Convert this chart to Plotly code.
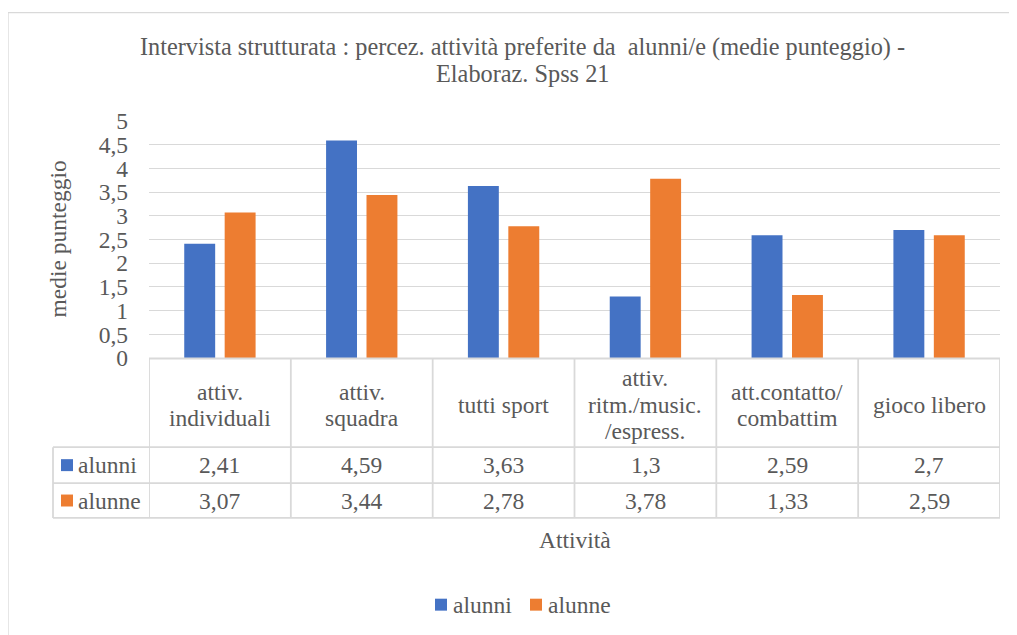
import plotly.graph_objects as go

# data
categories = ["attiv.<br>individuali", "attiv.<br>squadra", "tutti sport",
              "attiv.<br>ritm./music.<br>/espress.", "att.contatto/<br>combattim", "gioco libero"]
series_names = ["alunni", "alunne"]
alunni = [2.41, 4.59, 3.63, 1.3, 2.59, 2.7]
alunne = [3.07, 3.44, 2.78, 3.78, 1.33, 2.59]
y_tickvals = [0, 0.5, 1, 1.5, 2, 2.5, 3, 3.5, 4, 4.5, 5]
y_ticktext = ["0", "0,5", "1", "1,5", "2", "2,5", "3", "3,5", "4", "4,5", "5"]
title_lines = ["Intervista strutturata : percez. attività preferite da  alunni/e (medie punteggio) -",
               "Elaboraz. Spss 21"]

colors = ["#4472C4", "#ED7D31"]
text_color = "#595959"
grid_color = "#D9D9D9"
font_family = "Liberation Serif"
fsize = 23.5
title_size = 24.3
line_gap = 26.7  # Excel packs lines tighter than plotly's 1.3em

# the page adds an 8px body margin, so the figure is drawn 8px smaller and shifted
OFF = 8
W, H = 1017 - OFF, 635 - OFF
PL, PR, PT, PB = 149 - OFF, 1000 - OFF, 120.7 - OFF, 358.5 - OFF


def px_x(x):
    # x given in reference page pixels
    return (x - OFF - PL) / (PR - PL)


def px_y(y):
    return (PB - (y - OFF)) / (PB - PT)


def stacked(lines, yc):
    # centre y of every line of a text block centred on yc
    k = len(lines)
    return [yc + (j - (k - 1) / 2) * line_gap for j in range(k)]


fig = go.Figure()
for name, vals, col in zip(series_names, [alunni, alunne], colors):
    fig.add_trace(go.Bar(x=list(range(len(categories))), y=vals, name=name,
                         marker=dict(color=col, line=dict(width=0)), showlegend=False))

shapes = []
annotations = []

# outer chart border (left and top)
shapes.append(dict(type="rect", xref="paper", yref="paper", x0=px_x(8), x1=px_x(1100),
                   y0=px_y(12), y1=px_y(700), line=dict(color=grid_color, width=1.3),
                   fillcolor="rgba(0,0,0,0)", layer="below"))

# data table grid
n = len(categories)
row_top, row_head, row_a, row_b = 359, 448, 484, 519
line_style = dict(color=grid_color, width=1.8)
shapes.append(dict(type="line", xref="paper", yref="paper", x0=px_x(149), x1=px_x(1000),
                   y0=px_y(row_top), y1=px_y(row_top), line=line_style))
for yy in [row_head, row_a, row_b]:
    shapes.append(dict(type="line", xref="paper", yref="paper", x0=px_x(53), x1=px_x(1000),
                       y0=px_y(yy), y1=px_y(yy), line=line_style))
shapes.append(dict(type="line", xref="paper", yref="paper", x0=px_x(53), x1=px_x(53),
                   y0=px_y(row_head), y1=px_y(row_b), line=line_style))
for i in range(n + 1):
    shapes.append(dict(type="line", xref="x", yref="paper", x0=i - 0.5, x1=i - 0.5,
                       y0=px_y(row_top), y1=px_y(row_b), line=line_style))

# table header and values
for i, cat in enumerate(categories):
    parts = cat.split("<br>")
    for part, yy in zip(parts, stacked(parts, 405.5)):
        annotations.append(dict(x=i, y=px_y(yy), xref="x", yref="paper",
                                text=part, showarrow=False, yanchor="middle"))
    for vals, (r0, r1) in zip([alunni, alunne], [(row_head, row_a), (row_a, row_b)]):
        annotations.append(dict(x=i, y=px_y((r0 + r1) / 2), xref="x", yref="paper",
                                text=str(vals[i]).replace(".", ","), showarrow=False,
                                yanchor="middle"))

# legend keys in the table
for name, col, (r0, r1) in zip(series_names, colors, [(row_head, row_a), (row_a, row_b)]):
    yc = (r0 + r1) / 2
    shapes.append(dict(type="rect", xref="paper", yref="paper", x0=px_x(61), x1=px_x(73),
                       y0=px_y(yc + 6), y1=px_y(yc - 6), fillcolor=col, line=dict(width=0)))
    annotations.append(dict(x=px_x(76), y=px_y(yc), xref="paper", yref="paper", text=name,
                            showarrow=False, xanchor="left", yanchor="middle"))

# bottom legend
for name, col, sx in zip(series_names, colors, [435, 530]):
    shapes.append(dict(type="rect", xref="paper", yref="paper", x0=px_x(sx), x1=px_x(sx + 12),
                       y0=px_y(612), y1=px_y(600), fillcolor=col, line=dict(width=0)))
    annotations.append(dict(x=px_x(sx + 16), y=px_y(606), xref="paper", yref="paper", text=name,
                            showarrow=False, xanchor="left", yanchor="middle"))

# titles
for part, yy in zip(title_lines, stacked(title_lines, 60)):
    annotations.append(dict(x=px_x(522), y=px_y(yy), xref="paper", yref="paper",
                            text=part, showarrow=False, yanchor="middle",
                            font=dict(size=title_size)))
annotations.append(dict(x=px_x(574.5), y=px_y(541), xref="paper", yref="paper",
                        text="Attività", showarrow=False, yanchor="middle"))
annotations.append(dict(x=px_x(57), y=px_y(239.6), xref="paper", yref="paper",
                        text="medie punteggio", showarrow=False, textangle=-90,
                        xanchor="center", yanchor="middle"))

fig.update_layout(
    width=W, height=H,
    margin=dict(l=PL, r=W - PR, t=PT, b=H - PB, pad=0),
    paper_bgcolor="white", plot_bgcolor="white",
    font=dict(family=font_family, size=fsize, color=text_color),
    barmode="group", bargap=0.43, bargroupgap=0.235,
    shapes=shapes, annotations=annotations,
    showlegend=False,
    xaxis=dict(showticklabels=False, showgrid=False, zeroline=False, showline=False,
               range=[-0.5, n - 0.5], fixedrange=True),
    yaxis=dict(range=[0, 5], tickvals=y_tickvals, ticktext=y_ticktext,
               showgrid=True, gridcolor=grid_color, gridwidth=1.3, zeroline=False,
               showline=False, ticks="", ticklabelstandoff=20, fixedrange=True),
)

fig.write_html("out.html")
